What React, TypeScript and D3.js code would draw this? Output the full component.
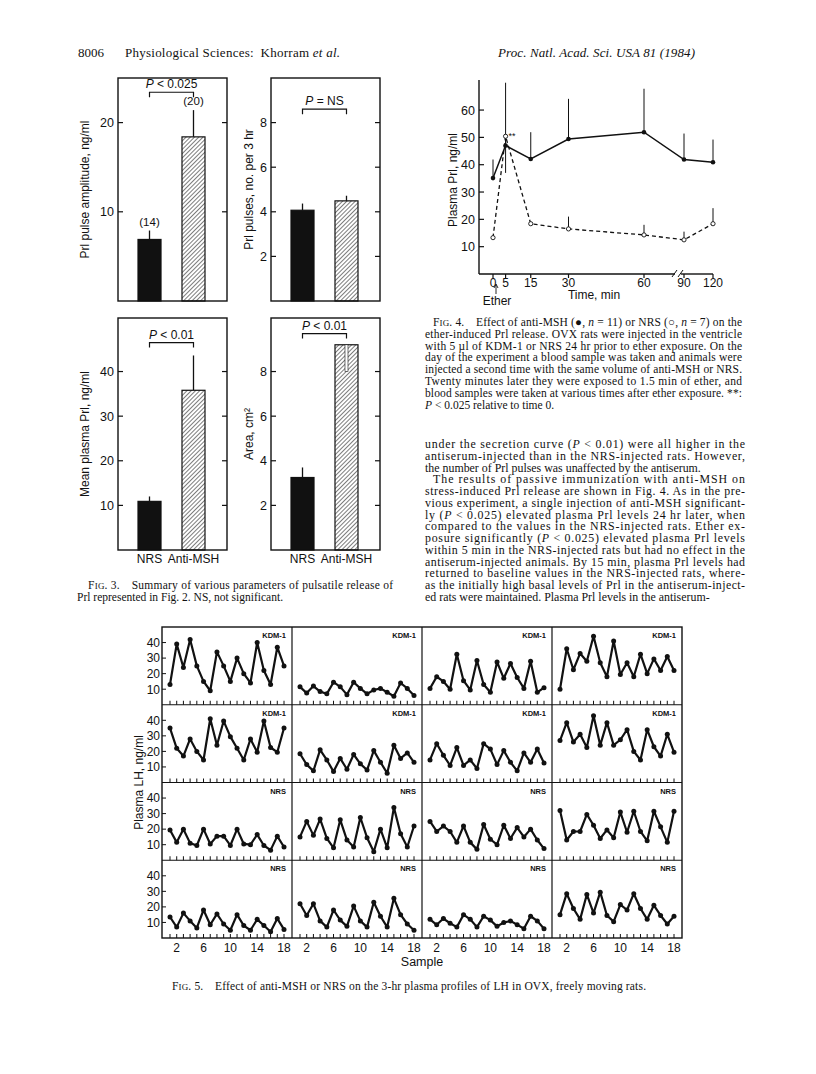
import * as d3 from 'd3'

const W = 816
const H = 1074
const SANS = 'Liberation Sans, Arial, Helvetica, sans-serif'
const SERIF = 'Liberation Serif, Times New Roman, serif'

// Fig. 3 bar values (NRS, Anti-MSH)
const barCats = ['NRS', 'Anti-MSH']
const ampMean = [6.9, 18.4]
const ampErr = [7.9, 21.4]
const ampN = ['(14)', '(20)']
const pulseMean = [4.07, 4.49]
const pulseErr = [4.37, 4.72]
const meanPrl = [10.9, 35.8]
const meanPrlErr = [12.0, 43.6]
const areaMean = [3.25, 9.2]
const areaErr = [3.7, 8.0]

// Fig. 4 time course
const times = [0, 5, 15, 30, 60, 90, 120]
const timeTicks = [0, 5, 15, 30, 60, 90, 120]
const antiMsh = [35.1, 47, 42.1, 49.4, 51.9, 41.9, 40.9]
const antiMshErr = [41.9, 70, 51.9, 64.1, 67.8, 51.4, 49.2]
const nrs = [13.3, 50.4, 18.4, 16.5, 14.3, 12.5, 18.4]
const nrsErr = [13.3, 37, 18.4, 21, 18, 15.5, 24.1]
const prlTicks = [10, 20, 30, 40, 50, 60]

// Fig. 5 LH profiles, samples 1..18
const samples = d3.range(1, 19)
const sampleLabels = [2, 6, 10, 14, 18]
const lhTicks = [10, 20, 30, 40]
const kdm1 = [13, 39, 24, 42, 25, 15, 9, 34, 25, 15, 30, 20, 14, 40, 22, 13, 37, 25]
const kdm2 = [11.5, 7.5, 12, 8.5, 7, 14.5, 11.5, 6.5, 14.5, 10.5, 7, 9.5, 10.5, 8, 5.5, 14, 10.5, 6]
const kdm3 = [10.5, 18, 15, 10, 32.5, 15.5, 9.5, 28.5, 13, 8, 27.5, 17, 26.5, 17.5, 10.5, 28, 8, 11]
const kdm4 = [10, 36, 22.5, 33, 28, 44, 27, 18, 41, 19.5, 27, 18, 32.5, 20, 29.5, 22, 31, 22]
const kdm5 = [35, 22, 17, 28, 20, 14.5, 41, 24, 39.5, 29.5, 22, 14.5, 28, 19.5, 39.5, 22.5, 19.5, 35]
const kdm6 = [18.5, 11.5, 7.5, 21, 14.5, 7, 15.5, 8.5, 18, 12, 8, 20.5, 13, 6, 24, 15.5, 19, 13]
const kdm7 = [14.5, 25, 17.5, 11, 22.5, 11, 14.5, 9, 25, 21.5, 11.5, 20.5, 13, 7.5, 19, 13, 21.5, 12.5]
const kdm8 = [27, 38.5, 26, 31, 22.5, 43, 24, 38.5, 24, 27.5, 34, 20, 14.5, 34, 23, 17, 31, 19.5]
const nrs1 = [19.5, 11.5, 20, 11, 9.5, 20, 10.5, 15.5, 15.5, 9.5, 20, 10.5, 10, 16.5, 9.5, 6.5, 15.5, 8.5]
const nrs2 = [15, 25, 16, 26.5, 14, 8, 26, 13, 8.5, 27.5, 14.5, 5.5, 20, 8, 34, 17, 8.5, 22]
const nrs3 = [25, 18.5, 22, 18.5, 11.5, 22, 11.5, 7, 23, 13.5, 10, 22.5, 14, 21, 15, 20, 13, 7.5]
const nrs4 = [32, 13, 18.5, 18.5, 29.5, 22.5, 14, 19.5, 14.5, 31, 18, 31.5, 18.5, 12.5, 31.5, 21.5, 11.5, 31.5]
const nrs5 = [13.5, 7, 16, 11, 6.5, 18, 8.5, 15.5, 9, 5, 15, 8, 5, 12, 8, 4, 12.5, 5.5]
const nrs6 = [22, 14.5, 22, 11, 7, 18, 11.5, 7.5, 20.5, 11, 7, 23, 14, 7, 25.5, 15, 9, 5]
const nrs7 = [12, 8.5, 12.5, 9.5, 7, 15, 12, 7, 14, 11.5, 7.5, 10, 11, 8.5, 6, 14, 11, 6]
const nrs8 = [15, 28.5, 19, 12, 28, 16, 29.5, 14.5, 10.5, 21.5, 18, 28.5, 19, 12, 21, 14.5, 9, 14]
const lhRows = [
  { label: 'KDM-1', series: [kdm1, kdm2, kdm3, kdm4] },
  { label: 'KDM-1', series: [kdm5, kdm6, kdm7, kdm8] },
  { label: 'NRS', series: [nrs1, nrs2, nrs3, nrs4] },
  { label: 'NRS', series: [nrs5, nrs6, nrs7, nrs8] },
]

// running text, _x_ = italic
const fig4Caption = [
  'Effect of anti-MSH (\u25CF, _n_ = 11) or NRS (\u25CB, _n_ = 7) on the',
  'ether-induced Prl release. OVX rats were injected in the ventricle',
  'with 5 \u00B5l of KDM-1 or NRS 24 hr prior to ether exposure. On the',
  'day of the experiment a blood sample was taken and animals were',
  'injected a second time with the same volume of anti-MSH or NRS.',
  'Twenty minutes later they were exposed to 1.5 min of ether, and',
  'blood samples were taken at various times after ether exposure. **:',
  '_P_ < 0.025 relative to time 0.',
]
const bodyLines = [
  'under the secretion curve (_P_ < 0.01) were all higher in the',
  'antiserum-injected than in the NRS-injected rats. However,',
  'the number of Prl pulses was unaffected by the antiserum.',
  'The results of passive immunization with anti-MSH on',
  'stress-induced Prl release are shown in Fig. 4. As in the pre-',
  'vious experiment, a single injection of anti-MSH significant-',
  'ly (_P_ < 0.025) elevated plasma Prl levels 24 hr later, when',
  'compared to the values in the NRS-injected rats. Ether ex-',
  'posure significantly (_P_ < 0.025) elevated plasma Prl levels',
  'within 5 min in the NRS-injected rats but had no effect in the',
  'antiserum-injected animals. By 15 min, plasma Prl levels had',
  'returned to baseline values in the NRS-injected rats, where-',
  'as the initially high basal levels of Prl in the antiserum-inject-',
  'ed rats were maintained. Plasma Prl levels in the antiserum-',
]

const segs = (s) =>
  s.split('_').map((t, i) => (
    <tspan key={i} fontStyle={i % 2 ? 'italic' : 'normal'}>
      {t}
    </tspan>
  ))

const TextLine = ({ x, y, w, size, text, fig }) => (
  <text
    x={x}
    y={y}
    fontFamily={SERIF}
    fontSize={size}
    fill="#111"
    textLength={w}
    lengthAdjust={w ? 'spacing' : undefined}
  >
    {fig && (
      <tspan>
        F<tspan fontSize={size * 0.78}>IG</tspan>. {fig}.{'\u2003'}
      </tspan>
    )}
    {segs(text)}
  </text>
)

const BarChart = ({ x0, y0, h, ymax, ticks, means, errs, counts, pText, pY, yLabel, labelDx, showCats }) => {
  const w = 109
  const y = d3.scaleLinear().domain([0, ymax]).range([y0 + h, y0])
  const x = d3.scaleBand().domain(barCats).range([x0 + 20, x0 + 87]).paddingInner(0.477)
  const bw = x.bandwidth()
  const cx = (c) => x(c) + bw / 2
  const by = y(pY)
  return (
    <g fontFamily={SANS} fill="#111">
      {barCats.map((c, i) => (
        <line key={'e' + c} x1={cx(c)} x2={cx(c)} y1={y(means[i])} y2={y(errs[i])} stroke="#111" strokeWidth={1.3} />
      ))}
      {barCats.map((c, i) => (
        <rect
          key={c}
          x={x(c)}
          y={y(means[i])}
          width={bw}
          height={y(0) - y(means[i])}
          fill={i === 0 ? '#111' : 'url(#hatch)'}
          stroke="#111"
          strokeWidth={1.2}
        />
      ))}
      {barCats.map((c, i) =>
        errs[i] < means[i] ? (
          <rect key={'w' + c} x={cx(c) - 1.5} y={y(means[i])} width={3} height={y(errs[i]) - y(means[i])} fill="#fff" stroke="#111" strokeWidth={0.6} />
        ) : null
      )}
      {counts &&
        barCats.map((c, i) => (
          <text key={'n' + c} x={cx(c)} y={y(errs[i]) - 5} textAnchor="middle" fontSize={11.5}>
            {counts[i]}
          </text>
        ))}
      <rect x={x0} y={y0} width={w} height={h} fill="none" stroke="#111" strokeWidth={1.4} />
      {ticks.map((t) => (
        <g key={t}>
          <line x1={x0} x2={x0 + 5} y1={y(t)} y2={y(t)} stroke="#111" strokeWidth={1.2} />
          <line x1={x0 + w - 5} x2={x0 + w} y1={y(t)} y2={y(t)} stroke="#111" strokeWidth={1.2} />
          <text x={x0 - 4} y={y(t) + 4.5} textAnchor="end" fontSize={12.5}>
            {t}
          </text>
        </g>
      ))}
      <path
        d={`M${cx(barCats[0])},${by + 5}V${by}H${cx(barCats[1])}V${by + 5}`}
        fill="none"
        stroke="#111"
        strokeWidth={1.2}
      />
      <text x={(cx(barCats[0]) + cx(barCats[1])) / 2} y={by - 4} textAnchor="middle" fontSize={12}>
        <tspan fontStyle="italic">P</tspan> {pText}
      </text>
      <text
        transform={`translate(${x0 - labelDx},${y0 + h / 2}) rotate(-90)`}
        textAnchor="middle"
        fontSize={12}
      >
        {yLabel}
      </text>
      {showCats &&
        barCats.map((c) => (
          <text key={'c' + c} x={cx(c)} y={y0 + h + 13} textAnchor="middle" fontSize={12}>
            {c}
          </text>
        ))}
    </g>
  )
}

const Fig4 = () => {
  const x = d3.scaleLinear().domain([0, 60, 90, 120]).range([493, 644, 684, 713])
  const y = d3.scaleLinear().domain([0, 71]).range([274, 80])
  const ax = 479
  const line = d3.line().x((d) => x(d[0])).y((d) => y(d[1]))
  return (
    <g fontFamily={SANS} fill="#111">
      <line x1={ax} x2={ax} y1={y(0)} y2={y(71)} stroke="#111" strokeWidth={1.4} />
      <line x1={ax} x2={675} y1={y(0)} y2={y(0)} stroke="#111" strokeWidth={1.4} />
      <line x1={681} x2={x(120)} y1={y(0)} y2={y(0)} stroke="#111" strokeWidth={1.4} />
      <path d={`M672,${y(0) + 3}L677,${y(0) - 4}M678,${y(0) + 3}L683,${y(0) - 4}`} stroke="#111" strokeWidth={1} />
      {prlTicks.map((t) => (
        <g key={t}>
          <line x1={ax} x2={ax + 5} y1={y(t)} y2={y(t)} stroke="#111" strokeWidth={1.2} />
          <text x={ax - 4} y={y(t) + 4.5} textAnchor="end" fontSize={12.5}>
            {t}
          </text>
        </g>
      ))}
      {timeTicks.map((t) => (
        <g key={t}>
          <line x1={x(t)} x2={x(t)} y1={y(0)} y2={y(0) + 4} stroke="#111" strokeWidth={1.2} />
          <text x={x(t)} y={y(0) + 13} textAnchor="middle" fontSize={12}>
            {t}
          </text>
        </g>
      ))}
      <text x={594} y={299} textAnchor="middle" fontSize={12}>
        Time, min
      </text>
      <path d="M496,294V285M494,288L496,284L498,288" fill="none" stroke="#111" strokeWidth={0.9} />
      <text x={497} y={305} textAnchor="middle" fontSize={12}>
        Ether
      </text>
      <text transform="translate(457,180) rotate(-90)" textAnchor="middle" fontSize={12}>
        Plasma Prl, ng/ml
      </text>
      {times.map((t, i) => (
        <line key={'a' + t} x1={x(t)} x2={x(t)} y1={y(antiMsh[i])} y2={y(antiMshErr[i])} stroke="#111" strokeWidth={1} />
      ))}
      {times.map((t, i) => (
        <line key={'n' + t} x1={x(t)} x2={x(t)} y1={y(nrs[i])} y2={y(nrsErr[i])} stroke="#111" strokeWidth={1} />
      ))}
      <path d={line(times.map((t, i) => [t, nrs[i]]))} fill="none" stroke="#111" strokeWidth={1.3} strokeDasharray="4,3" />
      <path d={line(times.map((t, i) => [t, antiMsh[i]]))} fill="none" stroke="#111" strokeWidth={1.5} />
      {times.map((t, i) => (
        <circle key={'nc' + t} cx={x(t)} cy={y(nrs[i])} r={2.1} fill="#fff" stroke="#111" strokeWidth={0.9} />
      ))}
      {times.map((t, i) => (
        <circle key={'ac' + t} cx={x(t)} cy={y(antiMsh[i])} r={2.3} fill="#111" />
      ))}
      <text x={x(5) + 3} y={y(nrs[1]) + 3} fontSize={9}>
        **
      </text>
    </g>
  )
}

const Fig5 = () => {
  const left = 162
  const top = 627
  const pw = 130
  const ph = 77.75
  return (
    <g fontFamily={SANS} fill="#111">
      {lhRows.map((row, r) =>
        row.series.map((vals, c) => {
          const x0 = left + c * pw
          const y0 = top + r * ph
          const x = d3.scaleLinear().domain([1, 18]).range([x0 + 8, x0 + pw - 8])
          const y = d3.scaleLinear().domain([0, 50]).range([y0 + ph, y0])
          const line = d3.line().x((d, i) => x(samples[i])).y((d) => y(d))
          return (
            <g key={r + '-' + c}>
              {samples.map((s) => (
                <line key={s} x1={x(s)} x2={x(s)} y1={y0 + ph} y2={y0 + ph - 4} stroke="#111" strokeWidth={1} />
              ))}
              <path d={line(vals)} fill="none" stroke="#111" strokeWidth={2.2} strokeLinejoin="round" />
              {vals.map((v, i) => (
                <circle key={i} cx={x(samples[i])} cy={y(v)} r={2.5} fill="#111" />
              ))}
              <text x={x0 + pw - 6} y={y0 + 11} textAnchor="end" fontSize={7.5} fontWeight="bold">
                {row.label}
              </text>
              {c === 0 &&
                lhTicks.map((t) => (
                  <g key={'t' + t}>
                    <line x1={x0} x2={x0 + 4} y1={y(t)} y2={y(t)} stroke="#111" strokeWidth={1} />
                    <text x={x0 - 2} y={y(t) + 4.3} textAnchor="end" fontSize={12}>
                      {t}
                    </text>
                  </g>
                ))}
              {r === 3 &&
                sampleLabels.map((s) => (
                  <text key={'s' + s} x={x(s)} y={y0 + ph + 14} textAnchor="middle" fontSize={12}>
                    {s}
                  </text>
                ))}
            </g>
          )
        })
      )}
      <rect x={left} y={top} width={pw * 4} height={ph * 4} fill="none" stroke="#111" strokeWidth={1.4} />
      {[1, 2, 3].map((i) => (
        <line key={'v' + i} x1={left + i * pw} x2={left + i * pw} y1={top} y2={top + ph * 4} stroke="#111" strokeWidth={1.2} />
      ))}
      {[1, 2, 3].map((i) => (
        <line key={'h' + i} x1={left} x2={left + pw * 4} y1={top + i * ph} y2={top + i * ph} stroke="#111" strokeWidth={1.2} />
      ))}
      <text transform={`translate(143,${top + ph * 2}) rotate(-90)`} textAnchor="middle" fontSize={12}>
        Plasma LH, ng/ml
      </text>
      <text x={left + pw * 2} y={top + ph * 4 + 28} textAnchor="middle" fontSize={12.5}>
        Sample
      </text>
    </g>
  )
}

export default function App() {
  return (
    <svg width={W} height={H} style={{ position: 'absolute', left: 0, top: 0, background: '#fff' }}>
      <defs>
        <pattern id="hatch" width={3} height={3} patternUnits="userSpaceOnUse" patternTransform="rotate(45)">
          <rect width={3} height={3} fill="#fff" />
          <line x1={0} y1={0} x2={0} y2={3} stroke="#111" strokeWidth={1.1} />
        </pattern>
      </defs>
      <rect width={W} height={H} fill="#fff" />

      {/* running head */}
      <text x={78} y={57} fontFamily={SERIF} fontSize={13} fill="#111">
        8006
      </text>
      <text x={125} y={57} fontFamily={SERIF} fontSize={13} fill="#111" textLength={215} lengthAdjust="spacing">
        Physiological Sciences:{'\u2002'}Khorram <tspan fontStyle="italic">et al.</tspan>
      </text>
      <text x={498} y={57} fontFamily={SERIF} fontSize={13} fontStyle="italic" fill="#111" textLength={197} lengthAdjust="spacing">
        Proc. Natl. Acad. Sci. USA 81 (1984)
      </text>

      {/* Fig. 3 */}
      <BarChart x0={118} y0={78} h={223} ymax={25} ticks={[10, 20]} means={ampMean} errs={ampErr} counts={ampN} pText="< 0.025" pY={23.4} yLabel="Prl pulse amplitude, ng/ml" labelDx={29} />
      <BarChart x0={271} y0={78} h={223} ymax={10} ticks={[2, 4, 6, 8]} means={pulseMean} errs={pulseErr} pText="= NS" pY={8.6} yLabel="Prl pulses, no. per 3 hr" labelDx={18} />
      <BarChart x0={118} y0={318} h={232} ymax={52} ticks={[10, 20, 30, 40]} means={meanPrl} errs={meanPrlErr} pText="< 0.01" pY={46.5} yLabel="Mean plasma Prl, ng/ml" labelDx={29} showCats />
      <BarChart x0={271} y0={318} h={232} ymax={10.4} ticks={[2, 4, 6, 8]} means={areaMean} errs={areaErr} pText="< 0.01" pY={9.7} yLabel="Area, cm²" labelDx={18} showCats />
      <TextLine x={88} y={589} w={305} size={11.5} fig="3" text="Summary of various parameters of pulsatile release of" />
      <TextLine x={77} y={601} size={11.5} text="Prl represented in Fig. 2. NS, not significant." />

      {/* Fig. 4 */}
      <Fig4 />
      {fig4Caption.map((t, i) => (
        <TextLine
          key={i}
          x={i === 0 ? 433 : 425}
          y={326 + i * 11.8}
          w={i < fig4Caption.length - 1 ? (i === 0 ? 309 : 317) : undefined}
          size={11.5}
          fig={i === 0 ? '4' : undefined}
          text={t}
        />
      ))}
      {bodyLines.map((t, i) => (
        <TextLine
          key={'b' + i}
          x={i === 3 ? 433 : 425}
          y={448 + i * 11.75}
          w={i === 2 || i === 13 ? undefined : i === 3 ? 312 : 320}
          size={11.9}
          text={t}
        />
      ))}

      {/* Fig. 5 */}
      <Fig5 />
      <TextLine x={172} y={990} w={474} size={11.5} fig="5" text="Effect of anti-MSH or NRS on the 3-hr plasma profiles of LH in OVX, freely moving rats." />
    </svg>
  )
}
